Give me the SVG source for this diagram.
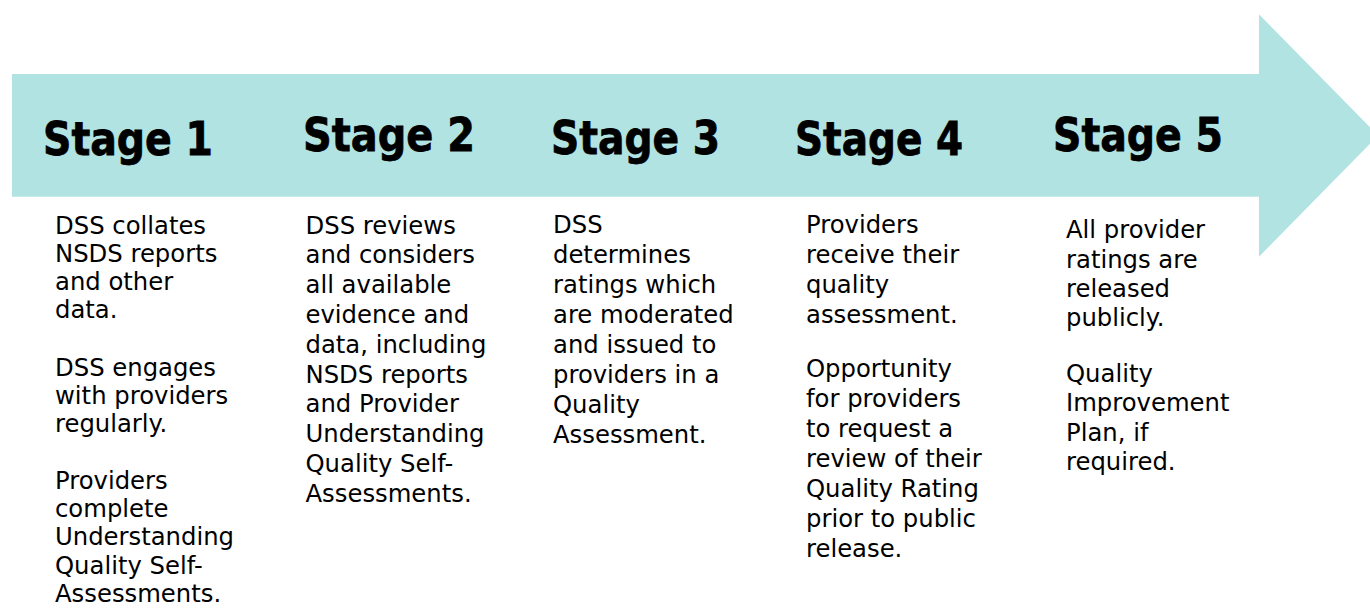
<svg xmlns="http://www.w3.org/2000/svg" width="1370" height="612" viewBox="0 0 1370 612">
<style>
.bg{fill:#ffffff}
.arrow{fill:#b2e3e3}
.head{font-family:"DejaVu Sans","Liberation Sans",sans-serif;font-weight:bold;font-size:46px;fill:#000;stroke:#000;stroke-width:0.8}
.body{font-family:"DejaVu Sans","Liberation Sans",sans-serif;font-size:24.3px;fill:#000}
</style>
<rect class="bg" x="0" y="0" width="1370" height="612"/>
<g id="connectors">
<polygon class="arrow" points="12,74 1259,74 1259,14.3 1378,135.5 1259,256.7 1259,196.7 12,196.7"/>
</g>
<g id="stage1">
<text class="head" x="43" y="155" textLength="170" lengthAdjust="spacingAndGlyphs">Stage 1</text>
<text class="body" x="55">
<tspan x="55" y="234">DSS collates</tspan>
<tspan x="55" y="262">NSDS reports</tspan>
<tspan x="55" y="290">and other</tspan>
<tspan x="55" y="318">data.</tspan>
<tspan x="55" y="376">DSS engages</tspan>
<tspan x="55" y="404">with providers</tspan>
<tspan x="55" y="432">regularly.</tspan>
<tspan x="55" y="489">Providers</tspan>
<tspan x="55" y="517">complete</tspan>
<tspan x="55" y="545">Understanding</tspan>
<tspan x="55" y="574">Quality Self-</tspan>
<tspan x="55" y="602">Assessments.</tspan>
</text>
</g>
<g id="stage2">
<text class="head" x="303" y="151" textLength="172" lengthAdjust="spacingAndGlyphs">Stage 2</text>
<text class="body" x="305.5">
<tspan x="305.5" y="233.5">DSS reviews</tspan>
<tspan x="305.5" y="263.3">and considers</tspan>
<tspan x="305.5" y="293.1">all available</tspan>
<tspan x="305.5" y="322.9">evidence and</tspan>
<tspan x="305.5" y="352.7">data, including</tspan>
<tspan x="305.5" y="382.5">NSDS reports</tspan>
<tspan x="305.5" y="412.3">and Provider</tspan>
<tspan x="305.5" y="442.1">Understanding</tspan>
<tspan x="305.5" y="471.9">Quality Self-</tspan>
<tspan x="305.5" y="501.7">Assessments.</tspan>
</text>
</g>
<g id="stage3">
<text class="head" x="551" y="154" textLength="169" lengthAdjust="spacingAndGlyphs">Stage 3</text>
<text class="body" x="553">
<tspan x="553" y="233">DSS</tspan>
<tspan x="553" y="263">determines</tspan>
<tspan x="553" y="293">ratings which</tspan>
<tspan x="553" y="323">are moderated</tspan>
<tspan x="553" y="353">and issued to</tspan>
<tspan x="553" y="383">providers in a</tspan>
<tspan x="553" y="413">Quality</tspan>
<tspan x="553" y="443">Assessment.</tspan>
</text>
</g>
<g id="stage4">
<text class="head" x="795" y="155" textLength="168" lengthAdjust="spacingAndGlyphs">Stage 4</text>
<text class="body" x="806">
<tspan x="806" y="233.3">Providers</tspan>
<tspan x="806" y="263.3">receive their</tspan>
<tspan x="806" y="293.3">quality</tspan>
<tspan x="806" y="323.3">assessment.</tspan>
<tspan x="806" y="376.7">Opportunity</tspan>
<tspan x="806" y="406.7">for providers</tspan>
<tspan x="806" y="436.7">to request a</tspan>
<tspan x="806" y="466.7">review of their</tspan>
<tspan x="806" y="496.7">Quality Rating</tspan>
<tspan x="806" y="526.7">prior to public</tspan>
<tspan x="806" y="556.7">release.</tspan>
</text>
</g>
<g id="stage5">
<text class="head" x="1053" y="151" textLength="170" lengthAdjust="spacingAndGlyphs">Stage 5</text>
<text class="body" x="1066">
<tspan x="1066" y="238">All provider</tspan>
<tspan x="1066" y="267.5">ratings are</tspan>
<tspan x="1066" y="297">released</tspan>
<tspan x="1066" y="326">publicly.</tspan>
<tspan x="1066" y="381.5">Quality</tspan>
<tspan x="1066" y="411">Improvement</tspan>
<tspan x="1066" y="440.5">Plan, if</tspan>
<tspan x="1066" y="470">required.</tspan>
</text>
</g>
</svg>
